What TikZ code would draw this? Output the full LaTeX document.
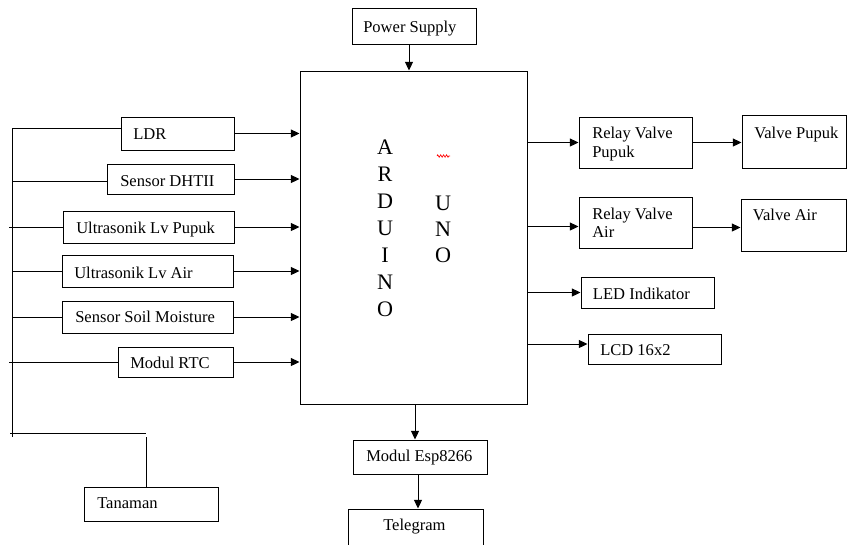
\documentclass[tikz,border=0pt]{standalone}
\usepackage{fontspec}
\setmainfont{Liberation Serif}
\usetikzlibrary{arrows.meta,fit,calc,decorations.pathmorphing}
\begin{document}
\begin{tikzpicture}[x=0.75pt,y=-0.75pt,
  box/.style={draw, line width=0.75pt, inner sep=0pt, rectangle},
  txt/.style={inner sep=0pt, anchor=base west, font=\fontsize{12.4}{15}\selectfont},
  big/.style={inner sep=0pt, anchor=base, font=\fontsize{16.6}{20}\selectfont},
  arr/.style={line width=0.75pt, -{Triangle[length=6.5pt,width=6pt]}},
  ln/.style={line width=0.75pt}]
\clip (0,0) rectangle (848,544);
% boxes
\node[box, fit={(352,8) (476,44)}] (ps) {};
\node[box, fit={(300,71) (527,404)}] (ard) {};
\node[box, fit={(121,117) (234,150)}] (ldr) {};
\node[box, fit={(107,164) (234,194)}] (dht) {};
\node[box, fit={(63,211) (234,243)}] (up) {};
\node[box, fit={(62,255) (233,287)}] (ua) {};
\node[box, fit={(62,301) (233,333)}] (soil) {};
\node[box, fit={(118,347) (233,377)}] (rtc) {};
\node[box, fit={(84,487) (218,521)}] (tan) {};
\node[box, fit={(353,440) (487,474)}] (esp) {};
\node[box, fit={(348,509) (483,560)}] (tel) {};
\node[box, fit={(579,117) (692,168)}] (rvp) {};
\node[box, fit={(742,115) (846,168)}] (vp) {};
\node[box, fit={(579,197) (692,248)}] (rva) {};
\node[box, fit={(741,199) (846,251)}] (va) {};
\node[box, fit={(581,277) (714,308)}] (led) {};
\node[box, fit={(588,334) (721,364)}] (lcd) {};
% texts
\node[txt] (pst) at (363,32) {Power Supply};
\node[txt] (ldrt) at (133,139) {LDR};
\node[txt] (dhtt) at (120,186.5) {Sensor DHTII};
\node[txt] (upt) at (76,233) {Ultrasonik Lv Pupuk};
\node[txt] (uat) at (74,278) {Ultrasonik Lv Air};
\node[txt] (soilt) at (75,322.5) {Sensor Soil Moisture};
\node[txt] (rtct) at (130,368) {Modul RTC};
\node[txt] (tant) at (97,508) {Tanaman};
\node[txt] (espt) at (366,461) {Modul Esp8266};
\node[txt] (telt) at (383,530.5) {Telegram};
\node[txt] (rvpt1) at (592,138.3) {Relay Valve};
\node[txt] (rvpt2) at (592,157.3) {Pupuk};
\node[txt] (vpt) at (754,138.3) {Valve Pupuk};
\node[txt] (rvat1) at (592,219.3) {Relay Valve};
\node[txt] (rvat2) at (592,237.3) {Air};
\node[txt] (vat) at (752.7,220.7) {Valve Air};
\node[txt] (ledt) at (592.7,299) {LED Indikator};
\node[txt] (lcdt) at (600,355) {LCD 16x2};
% ARDUINO UNO
\node[big] (l1) at (385,154) {A};
\node[big] (l2) at (385,181) {R};
\node[big] (l3) at (385,208.5) {D};
\node[big] (l4) at (385,235.5) {U};
\node[big] (l5) at (385,262.5) {I};
\node[big] (l6) at (385,289.3) {N};
\node[big] (l7) at (385,316) {O};
\node[big] (m1) at (443,210) {U};
\node[big] (m2) at (443,236.5) {N};
\node[big] (m3) at (443,262.7) {O};
\draw[red, line width=0.5pt, decorate, decoration={zigzag, amplitude=0.9pt, segment length=2.2pt}] (437,156) -- (450,156);
% power and bottom arrows
\draw[arr] ($(ps.south)+(-5,0)$) -- ($(ps.south |- ard.north)+(-5,0)$);
\draw[arr] ($(ard.south)+(1.5,0)$) -- ($(ard.south |- esp.north)+(1.5,0)$);
\draw[arr] ($(esp.south)+(-2,0)$) -- ($(esp.south |- tel.north)+(-2,0)$);
% left inputs to arduino
\draw[arr] (ldr.east) -- (ldr.east -| ard.west);
\draw[arr] (dht.east) -- (dht.east -| ard.west);
\draw[arr] (up.east) -- (up.east -| ard.west);
\draw[arr] (ua.east) -- (ua.east -| ard.west);
\draw[arr] (soil.east) -- (soil.east -| ard.west);
\draw[arr] (rtc.east) -- (rtc.east -| ard.west);
% left bus
\coordinate (bus) at (12,0);
\coordinate (ldrL) at (121,128);
\coordinate (busbot) at (12,437);
\coordinate (hl) at (10,433);
\coordinate (corner) at (146,433);
\coordinate (vtop) at (146,437);
\draw[ln] (ldrL) -- (bus |- ldrL) -- (busbot);
\draw[ln] ($(dht.west)+(0,2)$) coordinate (d1) -- (bus |- d1);
\draw[ln] (up.west) -- ($(bus |- up.west)+(-3,0)$);
\draw[ln] (ua.west) -- (bus |- ua.west);
\draw[ln] (soil.west) -- (bus |- soil.west);
\draw[ln] (rtc.west) -- ($(bus |- rtc.west)+(-3,0)$);
\draw[ln] (hl) -- (corner);
\draw[ln] (vtop) -- (vtop |- tan.north);
% right outputs
\draw[arr] (ard.east |- rvp.west) -- (rvp.west);
\draw[arr] (rvp.east) -- (vp.west |- rvp.east);
\draw[arr] ($(ard.east |- rva.west)+(0,4)$) -- ($(rva.west)+(0,4)$);
\draw[arr] ($(rva.east)+(0,5)$) coordinate (t) -- (va.west |- t);
\draw[arr] (ard.east |- led.west) -- (led.west);
\draw[arr] ($(ard.east |- lcd.west)+(0,-5)$) -- ($(lcd.west)+(0,-5)$);
\end{tikzpicture}
\end{document}
